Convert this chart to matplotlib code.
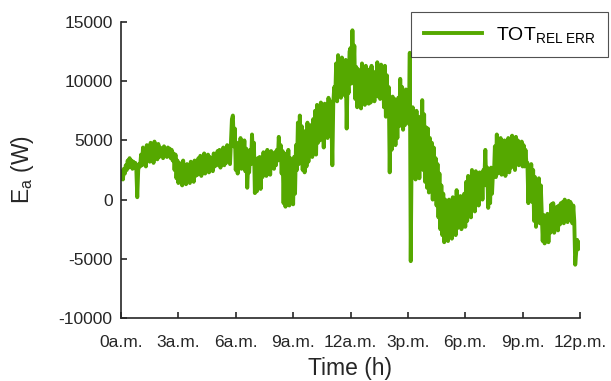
import numpy as np
import matplotlib
matplotlib.use("Agg")
import matplotlib.pyplot as plt

plt.rcParams['font.family'] = ['Liberation Sans', 'DejaVu Sans']
plt.rcParams['mathtext.fontset'] = 'custom'
plt.rcParams['mathtext.rm'] = 'Liberation Sans'
plt.rcParams['mathtext.it'] = 'Liberation Sans'
plt.rcParams['axes.unicode_minus'] = False

# Values, about every 3 minutes (W), one row per hour
tot_rel_err = [
    1800, 2400, 1700, 2600, 2200, 2900, 2500, 3300, 2700, 3500, 2800, 3300, 2600, 3200, 2700, 3100, 2600, 200, 2500, 3000,
    2800, 3800, 2900, 4400, 3300, 4100, 2800, 4600, 3500, 4300, 3200, 4800, 3700, 4500, 3100, 4900, 3600, 4400, 3400, 4700,
    3600, 4400, 3700, 4300, 3500, 4500, 3800, 4200, 3600, 4400, 3700, 4300, 3500, 4200, 3300, 3900, 2500, 3800, 1800, 3300,
    1400, 3100, 1600, 2900, 1200, 3300, 1700, 2800, 1300, 3000, 2000, 2700, 1400, 3200, 1800, 2900, 1500, 3300, 2000, 3000,
    2100, 3500, 2400, 3700, 2000, 3400, 2600, 3900, 2200, 3300, 2700, 3800, 2300, 3600, 2900, 3500, 2400, 3900, 2800, 3700,
    2900, 4100, 3200, 4200, 2700, 3900, 3300, 4400, 2900, 4200, 3100, 4600, 3500, 4300, 3000, 5000, 6800, 7100, 4500, 6000,
    2500, 4800, 2200, 4500, 3000, 5200, 2600, 4400, 3100, 5000, 2400, 4300, 1000, 3000, 2300, 4200, 3000, 5500, 3600, 4800,
    550, 3200, 700, 3500, 1200, 3600, 900, 3000, 1900, 4000, 2300, 3800, 2000, 4200, 2500, 3900, 2100, 4100, 2800, 3700,
    2600, 4000, 2900, 4200, 3300, 5300, 3600, 4600, 2200, 4100, -300, 3800, -600, 3900, 200, 4200, -500, 3500, 100, 3000,
    -400, 3600, 500, 4600, 2500, 6500, 3000, 7100, 3400, 6200, 2500, 5000, 2300, 5800, 2800, 6500, 3200, 5600, 3800, 6300,
    3600, 6800, 4200, 7500, 3800, 8000, 4800, 7200, 5000, 8200, 5500, 7800, 4400, 8100, 6000, 7600, 5200, 8600, 6200, 8300,
    7000, 2900, 8200, 9500, 8500, 11500, 8300, 12200, 9000, 11000, 8600, 12000, 9200, 11200, 8800, 11800, 6000, 10500, 9000, 12500,
    12800, 9800, 14300, 10500, 13000, 8500, 11200, 7800, 11000, 8200, 10800, 7700, 11500, 8400, 10600, 8000, 11300, 8800, 10900, 8100,
    11000, 8200, 11300, 8600, 10800, 8300, 10500, 9000, 11600, 8700, 11200, 8500, 11400, 8800, 10900, 7800, 11300, 7000, 10500, 7300,
    9500, 2300, 8200, 4200, 8700, 5000, 8500, 4600, 8000, 5200, 8600, 6200, 10200, 6500, 9500, 5900, 9000, 6300, 9300, 7000,
    8800, 6400, 12400, -5200, 4500, 7800, 2000, 6800, 1700, 7500, 2500, 6200, 1800, 7000, 3000, 8400, 2500, 7200, 1500, 6100,
    1000, 6000, 600, 5200, 1500, 4800, 0, 4400, 800, 3500, -500, 3000, -1500, 2200, -2500, 1200, -3000, 500, -3600, 0,
    -3200, -300, -3500, 0, -2800, -600, -3300, 200, -2700, -200, -3000, 800, -2400, 0, -2200, 300, -2500, -100, -2000, 500,
    -2300, 1500, -1800, 2000, -1200, 1800, -1500, 2500, -600, 2200, -1000, 2400, 0, 1900, -500, 2300, 300, 2100, 0, 2500,
    1800, 4200, 1200, 2700, -700, 2500, -300, 2700, 500, 2300, 2000, 4500, 1900, 5500, 2200, 4800, 2500, 5200, 2100, 4600,
    2600, 5000, 2000, 4500, 2800, 5200, 2300, 4200, 2700, 5400, 3000, 4800, 2500, 5300, 3200, 5000, 2900, 4700, 3000, 4900,
    2800, 4600, 2800, 4200, 3000, 3100, -300, 2800, 0, 3000, -200, 2500, -1800, 1900, -2300, 1500, -1500, 1800, -2000, 1200,
    -1100, -3500, -1300, -3700, -1600, -3300, -1200, -3600, -1500, -2800, -400, -2500, -300, -2800, -700, -2200, -600, -2600, -500, -2100,
    -300, -1800, -200, -2000, 0, -1500, -400, -1900, -100, -1700, -200, -1000, -2000, -500, -1800, -5500, -4500, -3400, -4200, -3600,
    -3800,
]
time_h = np.linspace(0, 24, len(tot_rel_err))

xticks = [0, 3, 6, 9, 12, 15, 18, 21, 24]
xticklabels = ['0a.m.', '3a.m.', '6a.m.', '9a.m.', '12a.m.', '3p.m.', '6p.m.', '9p.m.', '12p.m.']
yticks = [-10000, -5000, 0, 5000, 10000, 15000]

fig = plt.figure(figsize=(6.11, 3.81), dpi=100)
ax = fig.add_axes([121/611, 1 - 318/381, (580-121)/611, (318-22)/381])

line, = ax.plot(time_h, tot_rel_err, color='#55A800', lw=2.8, solid_joinstyle='round',
                label=r'$\mathrm{TOT}_{\mathrm{REL\ ERR}}$')

ax.set_xlim(0, 24)
ax.set_ylim(-10000, 15000)
ax.set_xticks(xticks)
ax.set_xticklabels(xticklabels)
ax.set_yticks(yticks)
ax.tick_params(direction='in', length=4, width=1.2, colors='#262626', labelsize=12.5,
               labelcolor='#262626', top=False, right=False)
ax.tick_params(axis='x', pad=12)
ax.tick_params(axis='y', pad=6)
for s in ['top', 'right']:
    ax.spines[s].set_visible(False)
for s in ['left', 'bottom']:
    ax.spines[s].set_linewidth(1.2)
    ax.spines[s].set_color('#262626')

ax.set_xlabel('Time (h)', fontsize=16.5, color='#262626', labelpad=5)
ax.set_ylabel(r'E$_{\mathrm{a}}$ (W)', fontsize=16.5, color='#262626', labelpad=16)

leg = fig.legend(handles=[line], loc='upper right', bbox_to_anchor=(608/611, 1 - 12/381),
                 bbox_transform=fig.transFigure, fontsize=14, frameon=True, fancybox=False,
                 handlelength=3.0, borderpad=0.65, handletextpad=0.7, borderaxespad=0)
leg.get_frame().set_edgecolor('#262626')
leg.get_frame().set_linewidth(0.8)

fig.savefig('out.png', dpi=100)
